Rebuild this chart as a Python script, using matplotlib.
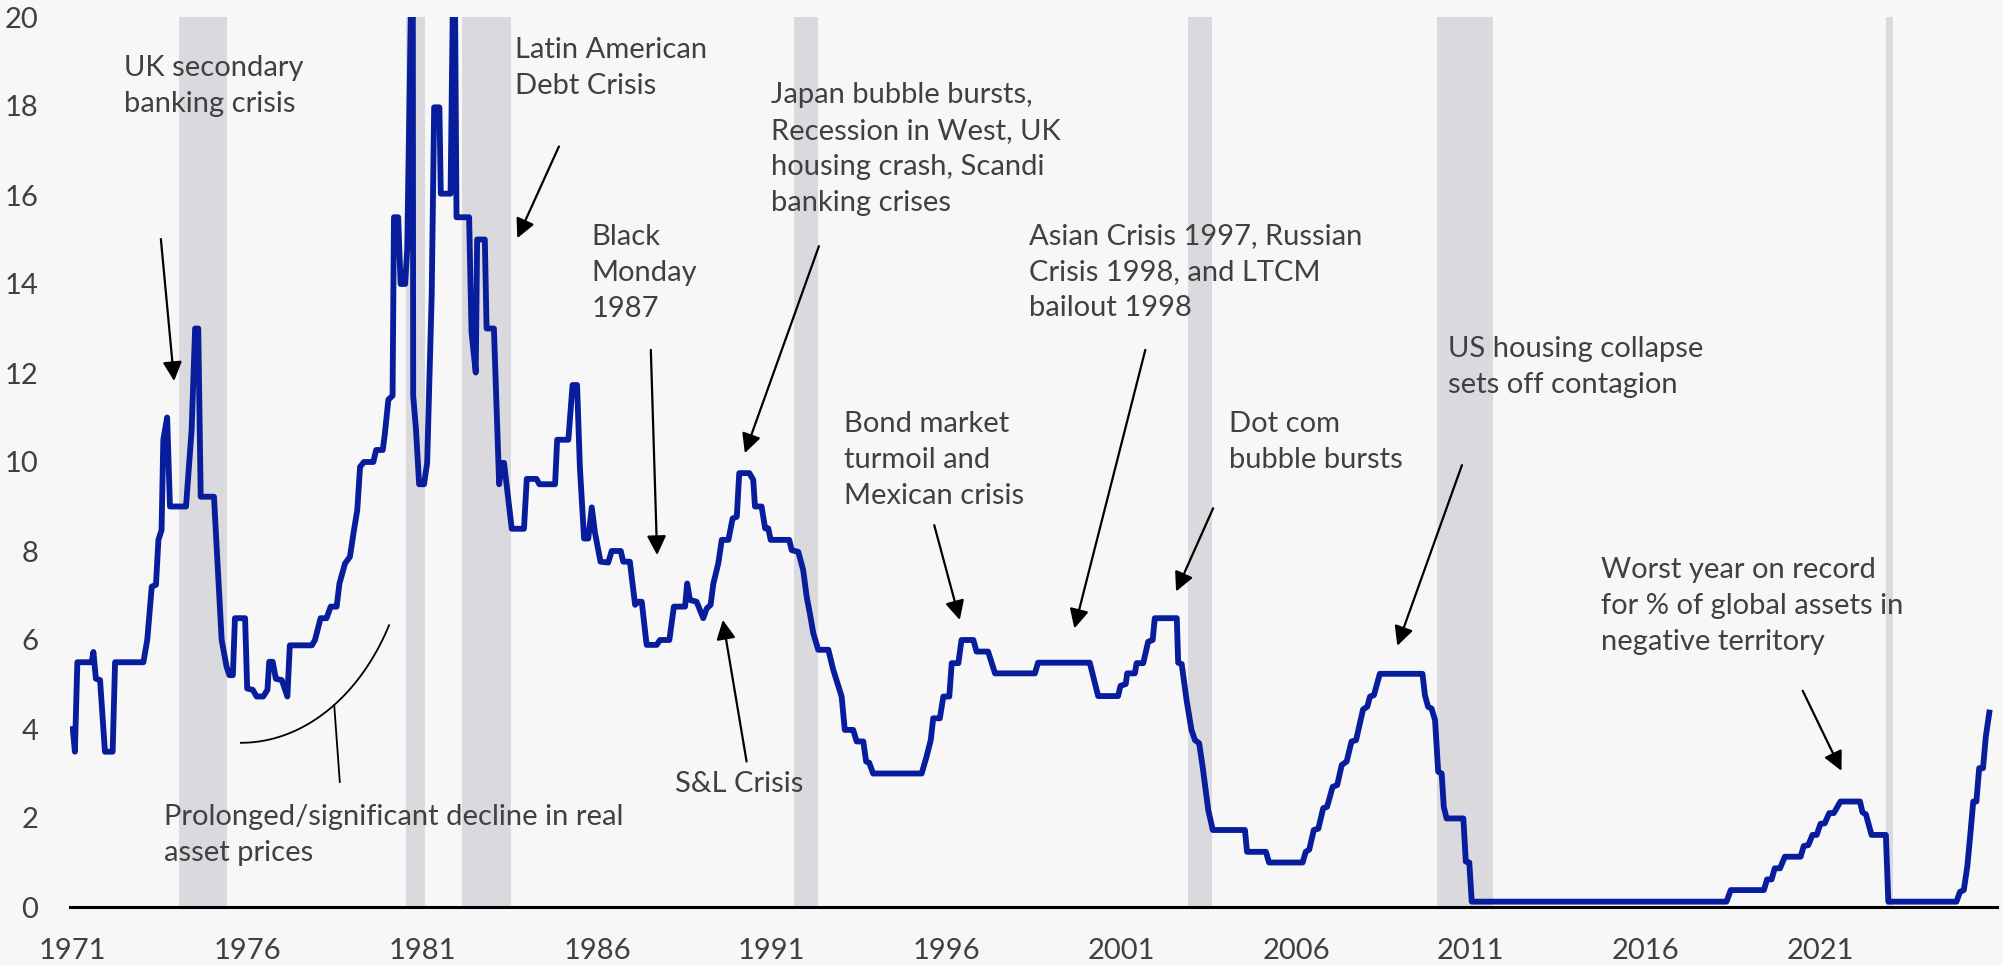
import numpy as np
import matplotlib
matplotlib.use("Agg")
import matplotlib.pyplot as plt

# ---------------- data (x = position on the labelled year axis) ----------------
years = [1971.0, 1971.06, 1971.13, 1971.54, 1971.59, 1971.66, 1971.78, 1971.92, 1972.14, 1972.21,
         1973.02, 1973.13, 1973.26, 1973.38, 1973.45, 1973.54, 1973.59, 1973.70, 1973.78, 1974.24,
         1974.40, 1974.50, 1974.59, 1974.66, 1975.04, 1975.12, 1975.26, 1975.40, 1975.48, 1975.58,
         1975.64, 1975.93, 1975.99, 1976.15, 1976.26, 1976.45, 1976.57, 1976.62, 1976.72, 1976.81,
         1976.98, 1977.14, 1977.21, 1977.84, 1977.93, 1978.09, 1978.26, 1978.38, 1978.55, 1978.63,
         1978.79, 1978.93, 1979.03, 1979.14, 1979.22, 1979.33, 1979.60, 1979.68, 1979.87, 1979.93,
         1980.03, 1980.15, 1980.19, 1980.31, 1980.38, 1980.51, 1980.57, 1980.67, 1980.73, 1980.74,
         1980.82, 1980.91, 1981.05, 1981.14, 1981.27, 1981.34, 1981.49, 1981.53, 1981.81, 1981.87,
         1981.94, 1981.98, 1982.34, 1982.41, 1982.53, 1982.57, 1982.79, 1982.84, 1983.05, 1983.20,
         1983.27, 1983.34, 1983.56, 1983.91, 1983.99, 1984.27, 1984.35, 1984.80, 1984.86, 1985.18,
         1985.30, 1985.43, 1985.51, 1985.63, 1985.75, 1985.85, 1985.94, 1986.10, 1986.32, 1986.42,
         1986.68, 1986.75, 1986.94, 1987.09, 1987.18, 1987.28, 1987.42, 1987.71, 1987.80, 1988.07,
         1988.20, 1988.52, 1988.58, 1988.66, 1988.85, 1989.04, 1989.14, 1989.25, 1989.33, 1989.47,
         1989.57, 1989.76, 1989.88, 1990.00, 1990.07, 1990.36, 1990.47, 1990.52, 1990.71, 1990.81,
         1990.90, 1990.97, 1991.50, 1991.57, 1991.76, 1991.90, 1992.00, 1992.09, 1992.19, 1992.33,
         1992.62, 1992.76, 1993.00, 1993.09, 1993.33, 1993.43, 1993.62, 1993.70, 1993.79, 1993.90,
         1995.29, 1995.43, 1995.55, 1995.62, 1995.81, 1995.91, 1996.08, 1996.15, 1996.34, 1996.43,
         1996.77, 1996.86, 1997.19, 1997.39, 1998.53, 1998.62, 2000.10, 2000.34, 2000.91, 2000.98,
         2001.13, 2001.17, 2001.39, 2001.44, 2001.63, 2001.77, 2001.90, 2001.96, 2002.59, 2002.63,
         2002.73, 2002.87, 2003.01, 2003.11, 2003.23, 2003.33, 2003.49, 2003.62, 2004.54, 2004.60,
         2005.14, 2005.23, 2006.19, 2006.28, 2006.38, 2006.51, 2006.64, 2006.78, 2006.89, 2007.05,
         2007.18, 2007.31, 2007.45, 2007.59, 2007.72, 2007.92, 2008.04, 2008.12, 2008.23, 2008.40,
         2009.62, 2009.69, 2009.78, 2009.88, 2009.98, 2010.07, 2010.17, 2010.23, 2010.31, 2010.79,
         2010.86, 2010.96, 2011.03, 2018.32, 2018.44, 2019.39, 2019.48, 2019.61, 2019.70, 2019.85,
         2019.99, 2020.44, 2020.53, 2020.66, 2020.78, 2020.90, 2021.01, 2021.13, 2021.26, 2021.39,
         2021.58, 2022.14, 2022.21, 2022.31, 2022.47, 2022.88, 2022.95, 2024.90, 2025.00, 2025.11,
         2025.21, 2025.30, 2025.38, 2025.47, 2025.55, 2025.66, 2025.74, 2025.84]

rates = [4.0, 3.49, 5.5, 5.5, 5.73, 5.13, 5.10, 3.49, 3.49, 5.5,
         5.5, 6.0, 7.2, 7.24, 8.25, 8.47, 10.5, 11.0, 9.0, 9.0,
         10.72, 13.0, 13.0, 9.22, 9.22, 8.03, 6.0, 5.4, 5.21, 5.21,
         6.49, 6.49, 4.91, 4.88, 4.73, 4.73, 4.88, 5.51, 5.51, 5.13,
         5.10, 4.73, 5.88, 5.88, 6.0, 6.49, 6.49, 6.75, 6.75, 7.27,
         7.72, 7.87, 8.39, 8.92, 9.89, 10.0, 10.0, 10.27, 10.27, 10.64,
         11.4, 11.49, 15.5, 15.5, 14.0, 14.0, 14.8, 20.0, 20.0, 11.49,
         10.73, 9.5, 9.5, 9.98, 13.76, 17.97, 17.97, 16.03, 16.03, 20.0,
         20.0, 15.5, 15.5, 12.91, 12.01, 15.0, 15.0, 13.0, 13.0, 9.5,
         9.98, 9.98, 8.5, 8.5, 9.62, 9.62, 9.5, 9.5, 10.5, 10.5,
         11.73, 11.73, 9.88, 8.28, 8.28, 8.98, 8.42, 7.76, 7.74, 8.0,
         8.0, 7.76, 7.76, 6.79, 6.86, 6.86, 5.89, 5.89, 6.0, 6.0,
         6.75, 6.75, 7.27, 6.9, 6.86, 6.49, 6.71, 6.79, 7.27, 7.72,
         8.25, 8.25, 8.73, 8.77, 9.75, 9.75, 9.6, 9.0, 9.0, 8.51,
         8.51, 8.25, 8.25, 8.02, 7.98, 7.57, 6.97, 6.6, 6.15, 5.78,
         5.78, 5.33, 4.73, 3.98, 3.98, 3.72, 3.72, 3.27, 3.24, 3.0,
         3.0, 3.38, 3.75, 4.24, 4.24, 4.73, 4.73, 5.48, 5.48, 6.0,
         6.0, 5.74, 5.74, 5.25, 5.25, 5.49, 5.49, 4.74, 4.74, 4.97,
         5.01, 5.25, 5.25, 5.48, 5.48, 5.96, 6.0, 6.49, 6.49, 5.49,
         5.46, 4.65, 3.98, 3.75, 3.68, 3.15, 2.18, 1.73, 1.73, 1.24,
         1.24, 1.0, 1.0, 1.24, 1.29, 1.73, 1.76, 2.22, 2.25, 2.70,
         2.74, 3.19, 3.27, 3.72, 3.75, 4.44, 4.5, 4.73, 4.76, 5.24,
         5.24, 4.76, 4.5, 4.46, 4.2, 3.04, 3.0, 2.25, 1.99, 1.99,
         1.02, 1.0, 0.12, 0.12, 0.38, 0.38, 0.62, 0.62, 0.87, 0.87,
         1.13, 1.13, 1.37, 1.39, 1.62, 1.62, 1.87, 1.88, 2.11, 2.11,
         2.37, 2.37, 2.13, 2.08, 1.62, 1.62, 0.12, 0.12, 0.34, 0.38,
         0.91, 1.66, 2.37, 2.37, 3.12, 3.12, 3.83, 4.37]

recession_start = [1974.04, 1980.53, 1982.13, 1991.64, 2002.91, 2010.04, 2022.88]
recession_end = [1975.42, 1981.07, 1983.53, 1992.33, 2003.60, 2011.63, 2023.07]

tick_years = [1971, 1976, 1981, 1986, 1991, 1996, 2001, 2006, 2011, 2016, 2021]
tick_labels = [str(y) for y in tick_years]
y_ticks = list(range(0, 21, 2))

# annotations: text, text (x, y top-left), arrow tail, arrow head
notes = [
    ("UK secondary\nbanking crisis", (1972.46, 19.15), (1973.52, 15.01), (1973.90, 11.82)),
    ("Latin American\nDebt Crisis", (1983.65, 19.55), (1984.91, 17.09), (1983.72, 15.03)),
    ("Black\nMonday\n1987", (1985.84, 15.35), (1987.54, 12.52), (1987.72, 7.91)),
    ("S&L Crisis", (1988.23, 3.05), (1990.28, 3.27), (1989.60, 6.45)),
    ("Japan bubble bursts,\nRecession in West, UK\nhousing crash, Scandi\nbanking crises",
     (1990.99, 18.54), (1992.35, 14.85), (1990.23, 10.20)),
    ("Bond market\nturmoil and\nMexican crisis", (1993.07, 11.15), (1995.65, 8.58), (1996.38, 6.45)),
    ("Asian Crisis 1997, Russian\nCrisis 1998, and LTCM\nbailout 1998", (1998.36, 15.37),
     (2001.69, 12.52), (1999.66, 6.26)),
    ("Dot com\nbubble bursts", (2004.08, 11.15), (2003.63, 8.96), (2002.57, 7.09)),
    ("US housing collapse\nsets off contagion", (2010.35, 12.83), (2010.75, 9.93), (2008.90, 5.87)),
    ("Worst year on record\nfor % of global assets in\nnegative territory", (2014.74, 7.86),
     (2020.50, 4.86), (2021.61, 3.06)),
]
decline_text = "Prolonged/significant decline in real\nasset prices"
decline_text_pos = (1973.60, 2.31)
# arc (quarter ellipse) and connector for the decline annotation
arc_center = (1975.81, 8.86)
arc_radii = (4.86, 5.17)
arc_sweep = 1.06
connector = [(1978.48, 4.54), (1978.64, 2.81)]

# ---------------- styling ----------------
BG = "#f7f7f7"
LINE = "#071d9b"
SHADE = "#d9d9de"
TXT = "#404040"
FONT = ["Lato", "DejaVu Sans"]
FS = 21
LSP = 1.47

plt.rcParams["font.family"] = FONT

fig = plt.figure(figsize=(20.03, 9.65), dpi=100, facecolor=BG)
ax = fig.add_axes([70 / 2003, 58 / 965, (1997 - 70) / 2003, (907 - 17) / 965])
ax.set_facecolor(BG)

for s, e in zip(recession_start, recession_end):
    ax.axvspan(s, e, color=SHADE, lw=0, zorder=1)

ax.plot(years, rates, color=LINE, lw=4.2, zorder=3, solid_joinstyle="round")

ax.set_xlim(1970.92, 2026.06)
ax.set_ylim(0, 20)
ax.set_xticks(tick_years)
ax.set_xticklabels(tick_labels)
ax.set_yticks(y_ticks)
ax.tick_params(axis="both", length=0, labelsize=FS, labelcolor=TXT)
ax.tick_params(axis="y", pad=23)
ax.tick_params(axis="x", pad=22)
for side in ["left", "right", "top"]:
    ax.spines[side].set_visible(False)
ax.spines["bottom"].set_color("black")
ax.spines["bottom"].set_linewidth(2.2)
ax.spines["bottom"].set_zorder(4)

for text, tpos, tail, head in notes:
    ax.text(tpos[0], tpos[1], text, ha="left", va="top", fontsize=FS, color=TXT,
            linespacing=LSP, zorder=5)
    ax.annotate("", xy=head, xytext=tail,
                arrowprops=dict(arrowstyle="-|>", color="black", lw=1.6,
                                mutation_scale=29, shrinkA=0, shrinkB=0),
                zorder=5)

ax.text(decline_text_pos[0], decline_text_pos[1], decline_text, ha="left", va="top",
        fontsize=FS, color=TXT, linespacing=LSP, zorder=5)
t = np.linspace(0, arc_sweep, 100)
ax.plot(arc_center[0] + arc_radii[0] * np.sin(t), arc_center[1] - arc_radii[1] * np.cos(t),
        color="black", lw=1.3, zorder=5)
ax.plot([connector[0][0], connector[1][0]], [connector[0][1], connector[1][1]],
        color="black", lw=1.3, zorder=5)

fig.savefig("out.png", dpi=100, facecolor=BG)
